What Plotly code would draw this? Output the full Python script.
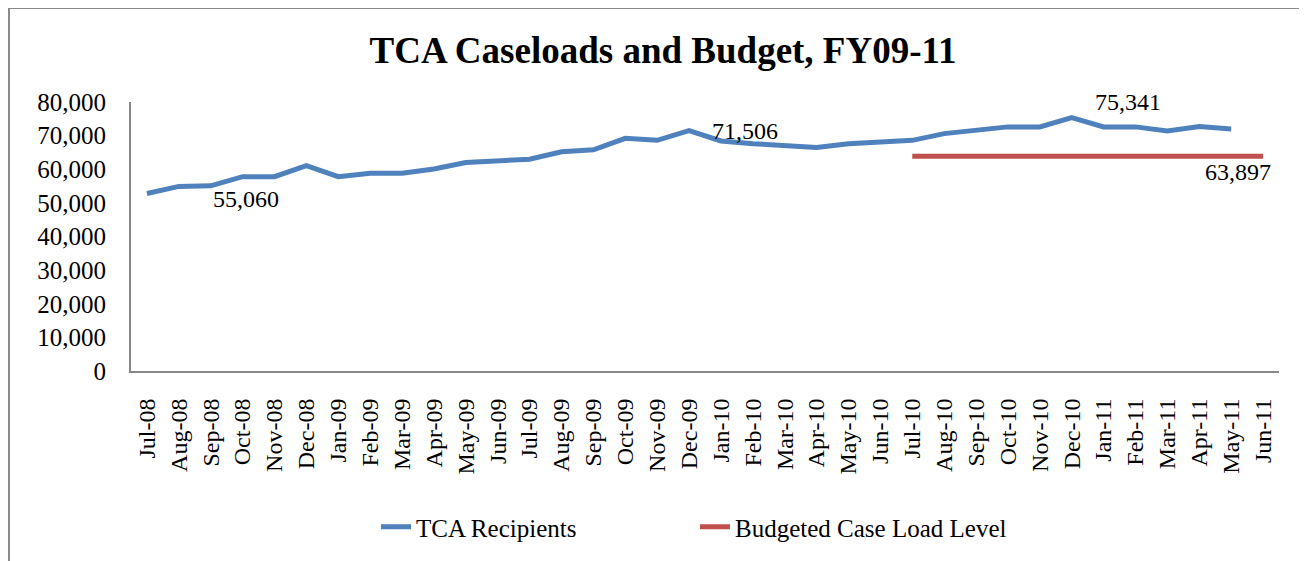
import plotly.graph_objects as go

months = ["Jul-08", "Aug-08", "Sep-08", "Oct-08", "Nov-08", "Dec-08",
          "Jan-09", "Feb-09", "Mar-09", "Apr-09", "May-09", "Jun-09",
          "Jul-09", "Aug-09", "Sep-09", "Oct-09", "Nov-09", "Dec-09",
          "Jan-10", "Feb-10", "Mar-10", "Apr-10", "May-10", "Jun-10",
          "Jul-10", "Aug-10", "Sep-10", "Oct-10", "Nov-10", "Dec-10",
          "Jan-11", "Feb-11", "Mar-11", "Apr-11", "May-11", "Jun-11"]

tca_recipients = [52800, 54900, 55060, 57800, 57800, 61100,
                  57800, 58800, 58800, 60100, 62000, 62500,
                  63000, 65200, 65800, 69200, 68600, 71506,
                  68400, 67600, 66900, 66500, 67600, 68100,
                  68600, 70600, 71600, 72600, 72600, 75341,
                  72600, 72600, 71400, 72700, 72000, None]

budgeted_level = [None] * 24 + [63897] * 12

# labelled points: (month, value, xshift, yshift)
point_labels = [
    ("Sep-08", 55060, 35, -13),
    ("Dec-09", 71506, 56, 0),
    ("Dec-10", 75341, 56, 16),
    ("Jun-11", 63897, -25, -16),
]

BLUE = "#4F81BD"
RED = "#C0504D"
FONT = "Liberation Serif"
AXIS_GREY = "#878787"

fig = go.Figure()
fig.add_trace(go.Scatter(x=months, y=tca_recipients, mode="lines",
                         name="TCA Recipients",
                         line=dict(color=BLUE, width=5)))
fig.add_trace(go.Scatter(x=months, y=budgeted_level, mode="lines",
                         name="Budgeted Case Load Level",
                         line=dict(color=RED, width=5)))

for m, v, dx, dy in point_labels:
    fig.add_annotation(x=m, y=v, xref="x", yref="y", text=f"{v:,}",
                       showarrow=False, xshift=dx, yshift=dy,
                       font=dict(family=FONT, size=24, color="#000000"))

# page has an 8px body margin; plot area on screen: x 131..1279, y 102..371
OFF = 8
W, H = 1307, 561
SX0, SX1, SY0, SY1 = 131, 1279, 102, 371
L, T = SX0 - OFF, SY0 - OFF
R = W - (SX1 - OFF)
B = H - (SY1 - OFF)
pw, ph = SX1 - SX0, SY1 - SY0

def px(xs):
    return (xs - SX0) / pw

def py(ys):
    return (SY1 - ys) / ph

# outer chart border (right and bottom fall outside the picture)
fig.add_shape(type="rect", xref="paper", yref="paper",
              x0=px(9), x1=px(1340), y0=py(600), y1=py(8),
              line=dict(color="#8A8A8A", width=2), layer="below")

fig.update_layout(
    width=W, height=H,
    margin=dict(l=L, r=R, t=T, b=B),
    paper_bgcolor="white", plot_bgcolor="white",
    title=dict(text="<b>TCA Caseloads and Budget, FY09-11</b>",
               x=px(663), xref="paper", xanchor="center",
               y=1 - (50 - OFF) / H, yanchor="middle",
               font=dict(family=FONT, size=37, color="#000000")),
    showlegend=True,
    legend=dict(orientation="h", x=px(695), xanchor="center",
                y=py(527), yanchor="middle",
                font=dict(family=FONT, size=25, color="#000000"),
                entrywidth=274, entrywidthmode="pixels",
                bgcolor="rgba(0,0,0,0)"),
    xaxis=dict(type="category", showgrid=False, zeroline=False,
               showline=True, linecolor=AXIS_GREY, linewidth=2,
               ticks="", tickangle=-90, ticklabelstandoff=16,
               tickfont=dict(family=FONT, size=24, color="#000000"),
               range=[-0.5, 35.5]),
    yaxis=dict(range=[0, 80000], dtick=10000, tickformat=",d",
               showgrid=False, zeroline=False,
               showline=True, linecolor=AXIS_GREY, linewidth=2,
               ticks="", ticklabelstandoff=18,
               tickfont=dict(family=FONT, size=25, color="#000000")),
)

fig.write_html("out.html")
